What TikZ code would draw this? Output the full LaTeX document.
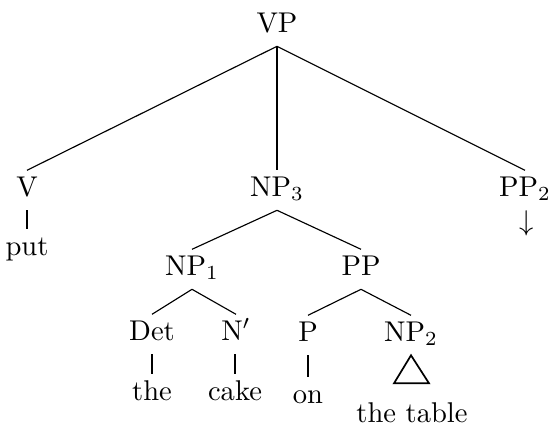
\documentclass[tikz,border=0pt]{standalone}
\begin{document}
\begin{tikzpicture}[x=0.35pt,y=-0.35pt,
  lab/.style={inner sep=0pt,outer sep=2pt,text height=7pt,text depth=3pt,anchor=base},
  word/.style={inner sep=0pt,outer sep=2pt,text height=7pt,text depth=2pt,anchor=base},
  edge/.style={line width=0.4pt},
  tri/.style={line width=0.6pt,line join=miter}]
\useasboundingbox (0,0) rectangle (550,425);
% labels
\node[lab] (VP) at (277,32) {VP};
\node[lab] (V) at (27,196) {V};
\node[lab] (NP3) at (277,196) {NP$_3$};
\node[lab] (PP2) at (525,196) {PP$_2$};
\node[word] (put) at (27,255) {put};
\node[inner sep=0pt,anchor=base] (arr) at (527,230) {$\downarrow$};
\node[lab] (NP1) at (192,275) {NP$_1$};
\node[lab] (PP) at (361,275) {PP};
\node[lab] (Det) at (152,340) {Det};
\node[lab] (Nb) at (236,340) {N$'$};
\node[lab] (P) at (308,341) {P};
\node[lab] (NP2) at (411,341) {NP$_2$};
\node[word] (the) at (152,400) {the};
\node[word] (cake) at (235,400) {cake};
\node[word] (on) at (308,403) {on};
\node[word] (thetable) at (412,422) {the table};
% edges
\draw[edge] (VP.south) -- (V.north);
\draw[edge] (VP.south) -- (NP3.north);
\draw[edge] (VP.south) -- (PP2.north);
\draw[edge] (V.south) -- (V.south |- put.north);
\draw[edge] (NP3.south) -- (NP1.north);
\draw[edge] (NP3.south) -- (PP.north);
\draw[edge] (NP1.south) -- (Det.north);
\draw[edge] (NP1.south) -- (Nb.north);
\draw[edge] (PP.south) -- (P.north);
\draw[edge] (PP.south) -- (NP2.north);
\draw[edge] (Det.south) -- (Det.south |- the.north);
\draw[edge] (cake.north |- Nb.south) -- (cake.north);
\draw[edge] (P.south) -- (P.south |- on.north);
\draw[tri] (NP2.south) -- ++(-17,28) -- ++(35,0) -- cycle;
\end{tikzpicture}
\end{document}
